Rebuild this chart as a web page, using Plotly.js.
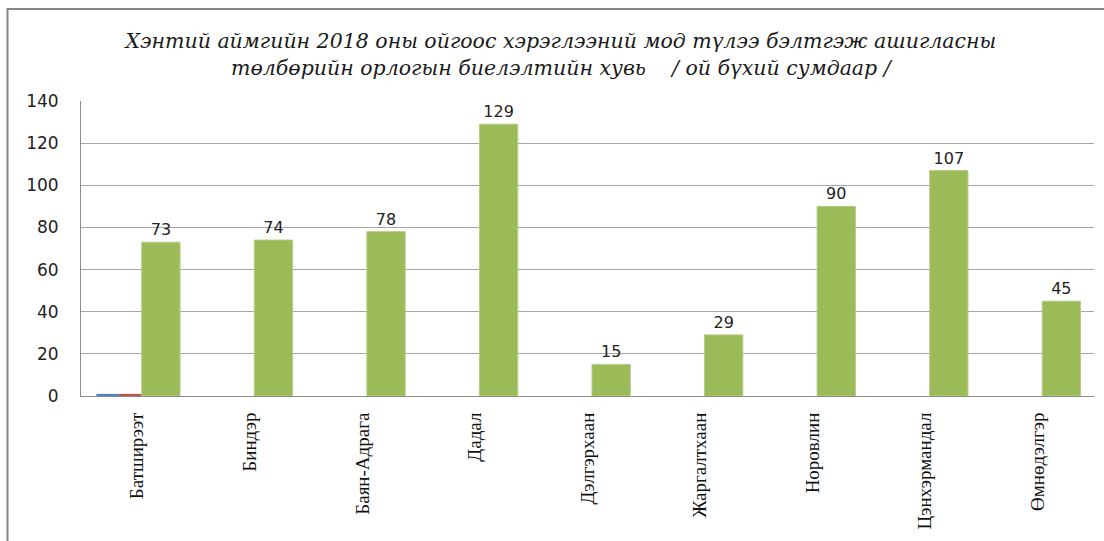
<!DOCTYPE html>
<html>
<head>
<meta charset="utf-8">
<script src="https://cdn.plot.ly/plotly-3.0.1.min.js"></script>
<style>html,body{margin:0;padding:0;background:#fff;}#chart{width:1104px;height:541px;}</style>
</head>
<body>
<div id="chart"></div>
<script>
const categories = ["Батширээт","Биндэр","Баян-Адрага","Дадал","Дэлгэрхаан","Жаргалтхаан","Норовлин","Цэнхэрмандал","Өмнөдэлгэр"];
const series1 = [1,0,0,0,0,0,0,0,0];
const series2 = [1,0,0,0,0,0,0,0,0];
const series3 = [73,74,78,129,15,29,90,107,45];
const yTicks = [0,20,40,60,80,100,120,140];

const W = 1104, H = 541;
const mL = 81, mR = 10, mT = 101, mB = 145;
const pw = W - mL - mR, ph = H - mT - mB;
const px2x = p => (p - mL) / pw;
const py2y = p => (H - mB - p) / ph;

const traces = [
  {type:'bar', x:categories, y:series1, name:'Series1', offset:-0.364, width:0.2,
   marker:{color:'#4F81BD', line:{width:0}}, hoverinfo:'x+y'},
  {type:'bar', x:categories, y:series2, name:'Series2', offset:-0.164, width:0.205,
   marker:{color:'#C0504D', line:{width:0}}, hoverinfo:'x+y'},
  {type:'bar', x:categories, y:series3, name:'Series3', offset:0.04, width:0.34,
   marker:{color:'#9BBB59', line:{width:1, color:'#B3CC85'}},
   text:series3.map(String), textposition:'outside', cliponaxis:false,
   textfont:{family:'DejaVu Sans, sans-serif', size:16, color:'#222'}}
];

const layout = {
  width:W, height:H,
  margin:{l:mL, r:mR, t:mT, b:mB, pad:0},
  paper_bgcolor:'#fff', plot_bgcolor:'#fff',
  showlegend:false,
  barmode:'overlay',
  title:{
    text:'Хэнтий аймгийн 2018 оны ойгоос хэрэглээний мод түлээ бэлтгэж ашигласны<br>төлбөрийн орлогын биелэлтийн хувь\u00a0\u00a0\u00a0 / ой бүхий сумдаар /',
    font:{family:'DejaVu Serif, serif', size:20.5, color:'#1a1a1a', style:'italic'},
    x:0.508, xanchor:'center', xref:'container',
    y:1-48/H, yanchor:'top', yref:'container'
  },
  xaxis:{
    type:'category', range:[-0.5, 8.5],
    showline:true, linecolor:'#8c8c8c', linewidth:1,
    ticks:'', tickangle:-90, ticklabelstandoff:8,
    tickfont:{family:'Liberation Serif, Times New Roman, serif', size:19, color:'#111'},
    showgrid:false, zeroline:false, fixedrange:true
  },
  yaxis:{
    range:[0,140], tickvals:yTicks, ticktext:yTicks.map(String),
    showline:true, linecolor:'#8c8c8c', linewidth:1,
    showgrid:true, gridcolor:'#a6a6a6', gridwidth:1,
    ticks:'', ticklabelstandoff:18,
    tickfont:{family:'DejaVu Sans, sans-serif', size:17, color:'#222'},
    zeroline:false, fixedrange:true
  },
  shapes:[
    {type:'line', xref:'paper', yref:'paper', x0:px2x(7.5), x1:px2x(1104), y0:py2y(9), y1:py2y(9),
     line:{color:'#868686', width:2}},
    {type:'line', xref:'paper', yref:'paper', x0:px2x(7.5), x1:px2x(7.5), y0:py2y(8), y1:py2y(541),
     line:{color:'#868686', width:2}}
  ]
};

Plotly.newPlot('chart', traces, layout, {staticPlot:true, displayModeBar:false});
</script>
</body>
</html>
